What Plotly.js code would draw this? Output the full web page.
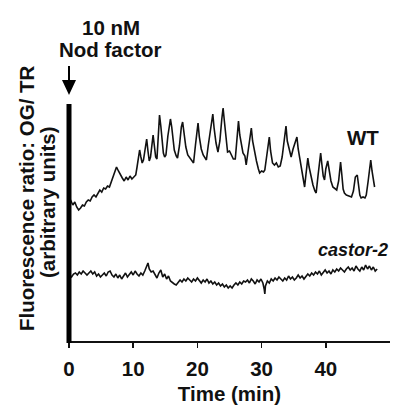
<!DOCTYPE html>
<html>
<head>
<meta charset="utf-8">
<script src="https://cdn.plot.ly/plotly-3.0.1.min.js"></script>
<style>html,body{margin:0;padding:0;background:#fff;}#chart{width:395px;height:405px;}</style>
</head>
<body>
<div id="chart"></div>
<script>
// Time (min) and fluorescence ratio (arbitrary units)
const wtTime = [0.0,0.3,0.6,0.9,1.2,1.5,1.8,2.1,2.4,2.7,3.0,3.3,3.6,3.9,4.2,4.5,4.8,5.1,5.4,5.7,6.0,6.3,6.6,6.9,7.2,7.4,7.7,8.0,8.3,8.6,8.9,9.2,9.5,9.8,10.1,10.4,10.6,10.8,11.0,11.2,11.4,11.6,11.8,12.0,12.1,12.3,12.5,12.7,12.9,13.1,13.3,13.5,13.7,13.9,14.1,14.3,14.5,14.7,14.9,15.1,15.4,15.8,16.0,16.2,16.4,16.7,16.9,17.2,17.5,17.7,17.9,18.2,18.5,18.8,19.1,19.4,19.7,20.0,20.1,20.3,20.6,20.9,21.2,21.4,21.7,22.1,22.4,22.6,22.9,23.2,23.5,23.8,24.0,24.2,24.5,24.7,25.0,25.3,25.6,25.9,26.1,26.4,26.6,26.9,27.1,27.4,27.6,27.9,28.2,28.4,28.6,28.9,29.2,29.5,29.7,30.0,30.3,30.5,30.8,31.0,31.2,31.4,31.7,32.0,32.3,32.6,32.9,33.2,33.5,33.8,34.0,34.3,34.6,34.9,35.2,35.5,35.7,36.0,36.2,36.5,36.7,36.9,37.2,37.4,37.7,38.0,38.3,38.5,38.8,39.0,39.2,39.4,39.6,39.8,40.0,40.3,40.5,40.8,41.1,41.4,41.7,42.0,42.3,42.5,42.7,42.9,43.2,43.6,44.0,44.3,44.6,44.9,45.1,45.3,45.5,45.8,46.1,46.3,46.6,46.8,47.0,47.2,47.4,47.6];
const wtRatio = [138,140,136,139,134,131,133,136,135,139,141,140,144,146,144,148,151,149,153,152,155,154,160,166,172,174,170,166,163,160,164,161,165,162,164,166,174,186,191,184,178,181,190,200,202,190,180,184,196,206,195,184,182,205,226,215,200,188,184,186,205,222,214,200,191,185,183,195,214,219,208,194,186,183,180,178,196,216,218,204,192,186,182,181,196,216,227,213,198,189,200,222,233,220,200,189,190,186,182,182,200,220,206,193,188,185,176,190,206,213,200,188,180,172,168,170,169,171,186,198,204,190,178,176,178,174,175,184,200,215,200,190,184,192,198,204,192,180,170,160,154,166,183,174,164,156,150,148,166,180,188,176,165,161,172,180,170,160,154,152,151,160,179,166,152,148,146,145,144,150,164,166,155,146,143,144,143,146,160,172,181,170,162,154];

const casTime = [0.1,0.4,0.7,1.0,1.3,1.6,1.9,2.2,2.5,2.8,3.1,3.4,3.7,4.0,4.3,4.6,4.9,5.2,5.5,5.8,6.1,6.4,6.7,7.0,7.3,7.6,7.9,8.2,8.5,8.8,9.1,9.4,9.7,10.0,10.3,10.6,10.9,11.2,11.5,11.8,12.1,12.3,12.5,12.8,13.1,13.4,13.7,14.0,14.3,14.6,14.9,15.2,15.5,15.8,16.1,16.4,16.7,17.0,17.3,17.6,17.9,18.2,18.5,18.8,19.1,19.4,19.7,20.0,20.3,20.6,20.9,21.2,21.5,21.8,22.1,22.4,22.7,23.0,23.3,23.6,23.9,24.2,24.5,24.8,25.1,25.4,25.7,26.0,26.3,26.6,26.9,27.2,27.5,27.8,28.1,28.4,28.7,29.0,29.3,29.6,29.9,30.2,30.4,30.5,30.6,30.9,31.2,31.5,31.8,32.1,32.4,32.7,33.0,33.3,33.6,33.9,34.2,34.5,34.8,35.1,35.4,35.7,36.0,36.3,36.6,36.9,37.2,37.5,37.8,38.1,38.4,38.7,39.0,39.3,39.6,39.9,40.2,40.5,40.8,41.1,41.4,41.7,42.0,42.3,42.6,42.9,43.2,43.5,43.8,44.1,44.4,44.7,45.0,45.3,45.6,45.9,46.2,46.5,46.8,47.1,47.4,47.7,48.0];
const casRatio = [66,64,67,68,66,69,67,70,68,66,68,70,67,69,65,67,64,66,68,65,69,70,66,64,67,63,66,62,65,68,64,66,69,66,70,67,65,68,66,70,74,78,72,69,70,66,63,68,71,64,67,62,65,60,58,57,56,58,61,59,62,60,63,61,59,62,60,63,60,58,61,59,62,58,60,57,59,56,58,55,57,54,56,53,55,53,56,58,56,59,57,60,59,61,58,62,60,57,61,59,62,58,52,47,55,60,58,62,60,63,61,64,62,60,63,61,65,62,64,61,63,66,63,65,62,64,67,65,68,66,69,67,70,66,69,71,68,70,67,71,69,72,70,73,71,69,72,74,71,73,70,75,72,70,74,71,76,72,75,71,74,70,72];

const xTicks = [0, 10, 20, 30, 40];
const xTickText = ['0', '10', '20', '30', '40'];
const seriesNames = ['WT', 'castor-2'];

const M = {l: 69, r: 5, t: 104, b: 64};
const W = 395, H = 405;
const PW = W - M.l - M.r, PH = H - M.t - M.b;
const X = px => (px - M.l) / PW;
const Y = py => (H - M.b - py) / PH;

const FONT = 'Liberation Sans, Arial, Helvetica, sans-serif';
const FS = 20.5;
const lineStyle = {color: '#111', width: 1.6};

const data = [
  {x: wtTime, y: wtRatio, name: seriesNames[0], type: 'scatter', mode: 'lines', line: lineStyle, hoverinfo: 'skip'},
  {x: casTime, y: casRatio, name: seriesNames[1], type: 'scatter', mode: 'lines', line: lineStyle, hoverinfo: 'skip'}
];

const bold = (s, size, opts) => Object.assign({
  text: s, showarrow: false, xref: 'paper', yref: 'paper',
  xanchor: 'center', yanchor: 'middle',
  font: {family: FONT, size: size, color: '#111', weight: 'bold'}
}, opts);

const layout = {
  width: W, height: H,
  margin: M,
  paper_bgcolor: '#fff', plot_bgcolor: '#fff',
  showlegend: false,
  xaxis: {
    range: [0, 50], showgrid: false, zeroline: false,
    showline: true, linecolor: '#111', linewidth: 1.5,
    ticks: 'outside', ticklen: 5, tickwidth: 1.5, tickcolor: '#111',
    ticklabelstandoff: 4,
    tickvals: xTicks, ticktext: xTickText,
    tickfont: {family: FONT, size: FS, color: '#111', weight: 'bold'},
    title: {text: 'Time (min)', standoff: 10, font: {family: FONT, size: FS, color: '#111', weight: 'bold'}}
  },
  yaxis: {
    range: [0, 237], showgrid: false, zeroline: false, showline: false,
    showticklabels: false, ticks: ''
  },
  shapes: [
    {type: 'line', xref: 'paper', yref: 'paper', x0: 0, x1: 0, y0: Y(343), y1: 1, line: {color: '#000', width: 5}},
    {type: 'line', xref: 'paper', yref: 'paper', x0: X(69), x1: X(69), y0: Y(66), y1: Y(82), line: {color: '#000', width: 2}},
    {type: 'path', xref: 'paper', yref: 'paper', fillcolor: '#000', line: {color: '#000', width: 0},
     path: `M ${X(62)} ${Y(80)} L ${X(76)} ${Y(80)} L ${X(69)} ${Y(95)} Z`}
  ],
  annotations: [
    bold('10 nM', FS, {x: X(111), y: Y(27)}),
    bold('Nod factor', FS, {x: X(110), y: Y(50)}),
    bold('Fluorescence ratio: OG/ TR', FS, {x: X(26), y: Y(198), textangle: -90}),
    bold('(arbitrary units)', FS, {x: X(47), y: Y(202), textangle: -90}),
    bold('WT', FS, {x: X(363), y: Y(137)}),
    bold('<i>castor-2</i>', 18, {x: X(353), y: Y(250)})
  ]
};

Plotly.newPlot('chart', data, layout, {displayModeBar: false, staticPlot: true});
</script>
</body>
</html>
